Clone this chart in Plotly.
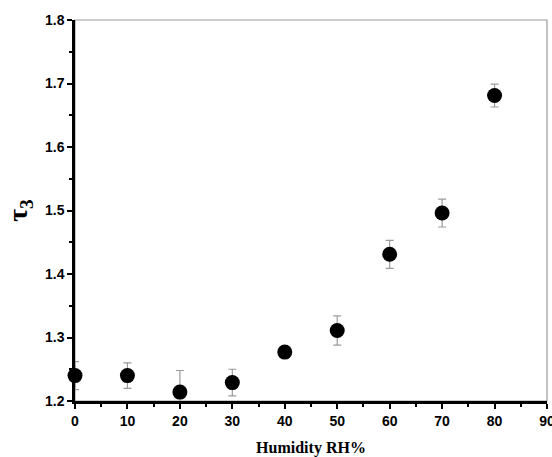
import plotly.graph_objects as go

humidity = [0, 10, 20, 30, 40, 50, 60, 70, 80]
tau3 = [1.240, 1.240, 1.214, 1.229, 1.277, 1.311, 1.431, 1.496, 1.681]
tau3_err = [0.022, 0.020, 0.034, 0.021, 0.004, 0.023, 0.022, 0.022, 0.018]

x_ticks = [0, 10, 20, 30, 40, 50, 60, 70, 80, 90]
y_ticks = [1.2, 1.3, 1.4, 1.5, 1.6, 1.7, 1.8]

fig = go.Figure()
# error bars (clipped to plot area)
fig.add_trace(go.Scatter(
    x=humidity, y=tau3, mode="markers",
    marker=dict(size=1, color="rgba(0,0,0,0)"),
    error_y=dict(type="data", array=tau3_err, visible=True,
                 color="#9a9a9a", thickness=1.2, width=4),
    cliponaxis=True, hoverinfo="skip", showlegend=False,
))
# markers (not clipped)
fig.add_trace(go.Scatter(
    x=humidity, y=tau3, mode="markers",
    marker=dict(size=15, color="black"),
    cliponaxis=False, showlegend=False,
))

tickfont = dict(family="Liberation Sans, Arial", size=14, color="black", weight="bold")

fig.update_layout(
    width=552, height=457,
    margin=dict(l=75, r=5, t=20, b=56),
    paper_bgcolor="white", plot_bgcolor="white",
    xaxis=dict(
        range=[0, 90], tickvals=x_ticks, ticktext=[str(v) for v in x_ticks],
        showgrid=False, zeroline=False, automargin=False, ticklabeloverflow="allow",
        showline=True, linecolor="black", linewidth=2.5,
        ticks="outside", ticklen=5, tickwidth=2, tickcolor="black",
        minor=dict(dtick=5, ticks="outside", ticklen=3, tickwidth=2, tickcolor="black", showgrid=False),
        tickfont=tickfont,
        title=dict(text="Humidity RH%", font=dict(family="Liberation Serif, Times New Roman", size=16, color="black", weight="bold"), standoff=17),
    ),
    yaxis=dict(
        range=[1.2, 1.8], tickvals=y_ticks, ticktext=[f"{v:.1f}" for v in y_ticks],
        showgrid=False, zeroline=False, automargin=False, ticklabeloverflow="allow",
        showline=True, linecolor="black", linewidth=2.5,
        ticks="outside", ticklen=5, tickwidth=2, tickcolor="black",
        minor=dict(dtick=0.05, ticks="outside", ticklen=3, tickwidth=2, tickcolor="black", showgrid=False),
        tickfont=tickfont,
        title=dict(text="τ<sub>3</sub>", font=dict(family="Liberation Serif, Times New Roman", size=28, color="black", weight="bold"), standoff=10),
    ),
    shapes=[dict(type="rect", xref="paper", yref="paper", x0=0, y0=0, x1=1, y1=1,
                 line=dict(color="#999999", width=1.2), layer="below")],
)

fig.write_html("out.html", config={"displayModeBar": False},
               post_script="document.body.style.margin='0';document.body.style.overflow='hidden';")
